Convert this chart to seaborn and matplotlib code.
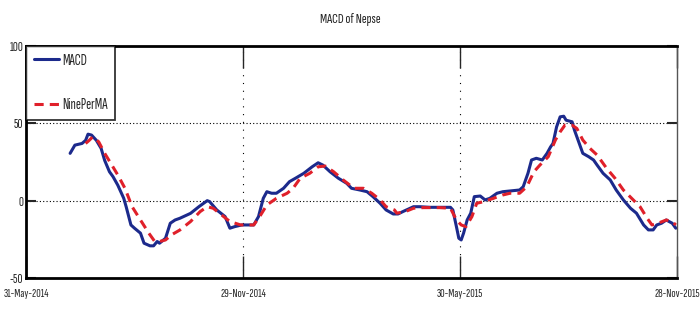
import matplotlib
matplotlib.use("Agg")
import matplotlib.pyplot as plt
import seaborn as sns
import pandas as pd

start_date = "2014-05-31"

macd_day = [37, 41, 47, 50, 52, 55, 59, 63, 66, 70, 73, 77, 82, 84, 88, 91, 96, 99,
            104, 107, 110, 112, 117, 121, 125, 129, 138, 145, 152, 154, 160, 167, 171,
            175, 181, 191, 195, 199, 202, 206, 210, 216, 221, 226, 233, 240, 245, 249,
            255, 262, 269, 273, 280, 286, 291, 297, 302, 308, 312, 316, 325, 330, 339,
            347, 356, 358, 361, 363, 365, 367, 370, 373, 376, 381, 385, 389, 395, 400,
            414, 417, 421, 424, 428, 433, 437, 440, 442, 445, 448, 451, 453, 458, 460,
            463, 467, 472, 476, 479, 484, 490, 495, 501, 507, 512, 518, 522, 526, 529,
            533, 537, 542, 545]
macd_val = [30.6, 35.9, 37.0, 39.0, 43.0, 42.4, 39.0, 33.8, 26.0, 18.7, 15.5, 10.0, 1.5,
            -3.9, -15.7, -17.8, -21.0, -27.5, -29.2, -29.2, -26.4, -27.5, -24.3, -14.6,
            -12.5, -11.4, -8.2, -3.9, 0.0, -0.6, -6.0, -10.3, -17.8, -16.8, -15.7, -15.7,
            -10.3, 1.5, 5.8, 4.8, 4.8, 8.0, 12.3, 14.5, 17.7, 21.9, 24.5, 23.0, 18.7, 14.5,
            11.2, 8.0, 6.9, 5.8, 2.6, -1.7, -6.0, -8.6, -8.6, -7.1, -3.9, -3.9, -4.3, -4.3,
            -4.3, -6.0, -16.8, -24.3, -25.4, -21.0, -12.5, -8.1, 2.6, 3.0, 0.5, 1.5, 4.8,
            5.8, 6.9, 9.0, 17.7, 26.3, 27.4, 26.3, 30.6, 34.8, 37.0, 47.7, 54.2, 54.6, 52.0,
            51.0, 45.6, 39.2, 30.6, 28.4, 26.3, 23.0, 17.7, 13.4, 6.9, 0.5, -4.9, -8.1,
            -15.7, -18.9, -18.9, -15.7, -14.6, -12.5, -14.6, -17.8]

sig_day = [50, 53, 56, 61, 66, 72, 77, 83, 89, 96, 103, 108, 112, 117, 122, 129, 138,
           146, 152, 157, 164, 171, 180, 191, 196, 202, 210, 219, 224, 230, 238, 245,
           251, 258, 266, 275, 283, 290, 297, 302, 309, 311, 318, 325, 333, 347, 356,
           361, 365, 369, 374, 378, 384, 392, 400, 406, 414, 420, 426, 431, 438, 444,
           448, 452, 458, 462, 467, 473, 479, 487, 494, 501, 508, 515, 521, 525, 530,
           537, 542, 545]
sig_val = [37.0, 39.0, 41.3, 38.0, 30.6, 23.0, 16.6, 8.0, -3.9, -12.5, -21.0, -26.4,
           -26.4, -25.4, -22.1, -19.0, -13.5, -7.1, -3.9, -4.9, -9.2, -13.5, -15.7, -15.7,
           -10.3, -2.8, 1.5, 4.8, 8.0, 14.5, 17.7, 21.9, 22.4, 18.7, 13.4, 8.0, 8.0, 4.8,
           0.5, -3.9, -6.0, -8.1, -7.1, -4.9, -4.5, -4.5, -4.9, -12.5, -15.7, -16.8,
           -10.3, -1.7, -0.6, 1.5, 3.7, 4.8, 4.8, 9.0, 18.7, 23.0, 28.4, 39.2, 44.5, 48.8,
           48.8, 46.7, 39.2, 33.8, 29.5, 20.9, 14.5, 6.9, 1.5, -3.9, -11.4, -15.7, -14.6,
           -12.5, -13.5, -15.7]

xtick_dates = ["2014-05-31", "2014-11-29", "2015-05-30", "2015-11-28"]
xtick_labels = ["31-May-2014", "29-Nov-2014", "30-May-2015", "28-Nov-2015"]
ytick_vals = [-50, 0, 50, 100]

sns.set_style("white")
plt.rcParams["font.family"] = ["Sofia Sans Extra Condensed", "Archivo Narrow", "DejaVu Sans"]

t0 = pd.Timestamp(start_date)
macd_df = pd.DataFrame({"date": t0 + pd.to_timedelta(macd_day, unit="D"), "value": macd_val})
sig_df = pd.DataFrame({"date": t0 + pd.to_timedelta(sig_day, unit="D"), "value": sig_val})

fig = plt.figure(figsize=(7, 3.15), dpi=100)
ax = fig.add_axes([26 / 700, 37 / 315, 651 / 700, 232 / 315])

sns.lineplot(data=macd_df, x="date", y="value", ax=ax, color="#1c2a8c", lw=2.2,
             label="MACD")
sns.lineplot(data=sig_df, x="date", y="value", ax=ax, color="#e0202a", lw=2.2,
             label="NinePerMA")
ax.lines[1].set_linestyle((0, (3, 2)))

xt = pd.to_datetime(xtick_dates)
ax.set_xlim(xt[0], xt[-1])
ax.set_ylim(-50, 100)
ax.set_xticks(xt)
ax.set_xticklabels(xtick_labels)
ax.set_yticks(ytick_vals)
ax.set_yticklabels([str(v) for v in ytick_vals])
ax.set_xlabel("")
ax.set_ylabel("")

for y in [0, 50]:
    ax.axhline(y, color="black", lw=0.8, ls=(0, (1, 2)), zorder=0)
for x in xt[1:3]:
    ax.axvline(x, color="black", lw=0.8, ls=(0, (1, 6)), zorder=0)

ax.tick_params(axis="x", direction="in", length=16, width=1, labelsize=9.0, pad=8,
               top=True, bottom=True)
ax.tick_params(axis="y", direction="in", length=7, width=1.5, labelsize=10, pad=2,
               left=True, right=True)

for side in ["top", "bottom", "left"]:
    ax.spines[side].set_linewidth(2)
    ax.spines[side].set_color("black")
ax.spines["right"].set_linewidth(1)
ax.spines["right"].set_color("#555555")

leg = ax.legend(loc="upper left", borderaxespad=0, frameon=True, fancybox=False,
                edgecolor="black", fontsize=11, handlelength=1.65, handletextpad=0.2,
                labelspacing=2.0, borderpad=0.5)
leg.get_frame().set_linewidth(1.3)

fig.text(0.5, 1 - 19 / 315, "MACD of Nepse", ha="center", va="center", fontsize=10.5)

fig.savefig("out.png", dpi=100)
